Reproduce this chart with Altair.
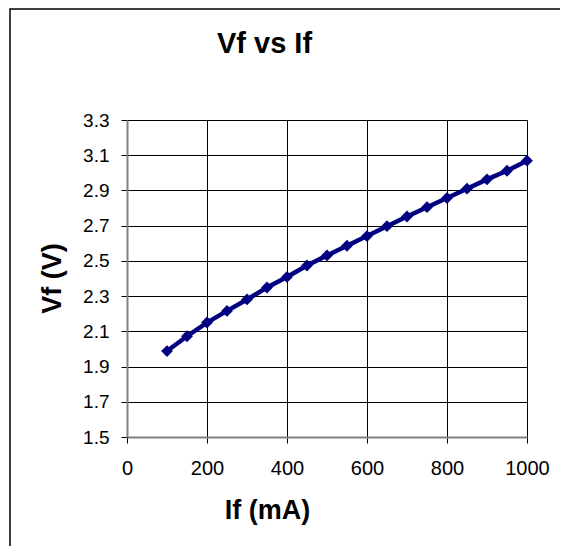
import altair as alt
import pandas as pd

current_ma = [100, 150, 200, 250, 300, 350, 400, 450, 500, 550,
              600, 650, 700, 750, 800, 850, 900, 950, 1000]
voltage_v = [1.988, 2.072, 2.150, 2.216, 2.281, 2.349, 2.409, 2.474, 2.531, 2.586,
             2.641, 2.697, 2.752, 2.805, 2.857, 2.910, 2.963, 3.012, 3.069]
x_ticks = [0, 200, 400, 600, 800, 1000]
y_ticks = [1.5, 1.7, 1.9, 2.1, 2.3, 2.5, 2.7, 2.9, 3.1, 3.3]
chart_title = ["Vf vs If"]

df = pd.DataFrame({"If": current_ma, "Vf": voltage_v})

FONT = "Liberation Sans"
NAVY = "#000080"

x_enc = alt.X(
    "If:Q",
    scale=alt.Scale(domain=[0, 1000], nice=False, zero=False),
    axis=alt.Axis(
        values=x_ticks, format="d", title="If (mA)", grid=True,
        labelFontSize=20, labelFont=FONT, labelColor="black", labelPadding=15,
        labelFlush=False, labelOverlap=False,
        titleFontSize=27, titleFont=FONT, titleFontWeight="bold", titleColor="black",
        titleX=140, titleY=81, titleBaseline="alphabetic", titleAlign="center",
        tickSize=6, tickColor="black", domainColor="#808080", domainWidth=2,
        gridColor="black", gridWidth=1, gridOpacity=1,
    ),
)
y_enc = alt.Y(
    "Vf:Q",
    scale=alt.Scale(domain=[1.5, 3.3], nice=False, zero=False),
    axis=alt.Axis(
        values=y_ticks, format=".1f", title="Vf (V)", grid=True,
        labelFontSize=19, labelFont=FONT, labelColor="black", labelPadding=12,
        labelFlush=False, labelOverlap=False,
        titleFontSize=27, titleFont=FONT, titleFontWeight="bold", titleColor="black",
        titleX=-75, titleY=158, titleAngle=270, titleBaseline="middle", titleAlign="center",
        tickSize=6, tickColor="black", domainColor="#808080", domainWidth=2,
        gridColor="black", gridWidth=1, gridOpacity=1,
    ),
)

line = alt.Chart(df).mark_line(
    color=NAVY, strokeWidth=4.5,
    point=alt.OverlayMarkDef(shape="diamond", size=140, color=NAVY, filled=True, opacity=1),
).encode(x=x_enc, y=y_enc)

border = alt.Chart(pd.DataFrame({"b": [0]})).mark_rect(
    fillOpacity=0, stroke="black", strokeWidth=1.5
).encode(
    x=alt.value(-117), x2=alt.value(600),
    y=alt.value(-111), y2=alt.value(600),
)

title = alt.Chart(pd.DataFrame({"t": chart_title})).mark_text(
    font=FONT, fontSize=29, fontWeight="bold", color="black",
    align="center", baseline="alphabetic",
).encode(
    text="t:N", x=alt.value(137.5), y=alt.value(-67),
)

chart = alt.layer(border, title, line).properties(
    width=400, height=317,
    autosize=alt.AutoSizeParams(type="none"),
    padding={"left": 119, "top": 112, "right": 33, "bottom": 109},
).configure_view(
    stroke="#808080", strokeWidth=2,
).configure(background="white")

chart.save("out.html", embed_options={"renderer": "svg", "actions": False})
